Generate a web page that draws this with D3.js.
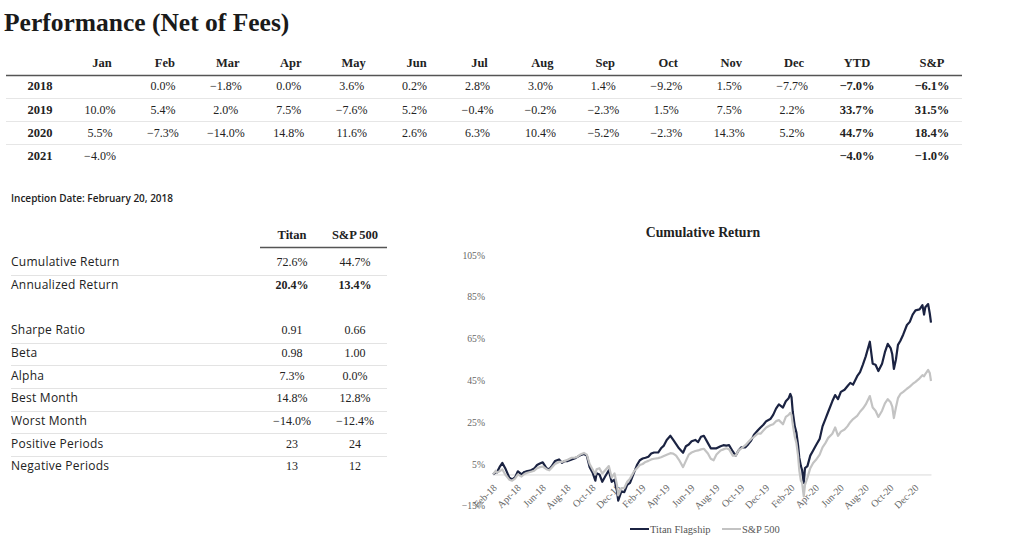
<!DOCTYPE html>
<html><head><meta charset="utf-8">
<script src="https://cdn.jsdelivr.net/npm/d3@7"></script>
<style>body{margin:0;background:#fff;}svg{display:block;}</style>
</head><body>
<svg id="c" width="1024" height="550"></svg>
<script>
// ---------- DATA ----------
const months = ["Jan","Feb","Mar","Apr","May","Jun","Jul","Aug","Sep","Oct","Nov","Dec"];
const years = ["2018","2019","2020","2021"];
const r2018 = [null, 0.0, -1.8, 0.0, 3.6, 0.2, 2.8, 3.0, 1.4, -9.2, 1.5, -7.7];
const r2019 = [10.0, 5.4, 2.0, 7.5, -7.6, 5.2, -0.4, -0.2, -2.3, 1.5, 7.5, 2.2];
const r2020 = [5.5, -7.3, -14.0, 14.8, 11.6, 2.6, 6.3, 10.4, -5.2, -2.3, 14.3, 5.2];
const r2021 = [-4.0, null, null, null, null, null, null, null, null, null, null, null];
const ytd = [-7.0, 33.7, 44.7, -4.0];
const spYtd = [-6.1, 31.5, 18.4, -1.0];

const statLabels = ["Cumulative Return","Annualized Return","Sharpe Ratio","Beta","Alpha","Best Month","Worst Month","Positive Periods","Negative Periods"];
const titanStats = ["72.6%","20.4%","0.91","0.98","7.3%","14.8%","\u221214.0%","23","13"];
const spStats = ["44.7%","13.4%","0.66","1.00","0.0%","12.8%","\u221212.4%","24","12"];

const dates = ["2018-02-20","2018-02-27","2018-03-01","2018-03-08","2018-03-15","2018-03-22","2018-04-01","2018-04-08","2018-04-15","2018-04-22",
"2018-05-01","2018-05-08","2018-05-15","2018-05-22","2018-06-01","2018-06-08","2018-06-15","2018-06-22","2018-07-01","2018-07-08",
"2018-07-15","2018-07-22","2018-08-01","2018-08-08","2018-08-15","2018-08-22","2018-09-01","2018-09-08","2018-09-15","2018-09-22",
"2018-10-01","2018-10-08","2018-10-15","2018-10-22","2018-10-29","2018-11-01","2018-11-08","2018-11-15","2018-11-22","2018-12-01",
"2018-12-08","2018-12-15","2018-12-21","2018-12-24","2019-01-01","2019-01-08","2019-01-15","2019-01-22","2019-02-01","2019-02-08",
"2019-02-15","2019-02-22","2019-03-01","2019-03-08","2019-03-15","2019-03-22","2019-04-01","2019-04-08","2019-04-15","2019-04-22",
"2019-05-01","2019-05-08","2019-05-15","2019-05-22","2019-06-01","2019-06-08","2019-06-15","2019-06-22","2019-07-01","2019-07-08",
"2019-07-15","2019-07-22","2019-08-01","2019-08-08","2019-08-15","2019-08-22","2019-09-01","2019-09-08","2019-09-15","2019-09-22",
"2019-10-01","2019-10-08","2019-10-15","2019-10-22","2019-11-01","2019-11-08","2019-11-15","2019-11-22","2019-12-01","2019-12-08",
"2019-12-15","2019-12-22","2020-01-01","2020-01-08","2020-01-15","2020-01-22","2020-02-01","2020-02-08","2020-02-15","2020-02-19",
"2020-02-22","2020-02-25","2020-03-01","2020-03-05","2020-03-09","2020-03-12","2020-03-16","2020-03-19","2020-03-23","2020-03-26",
"2020-04-01","2020-04-08","2020-04-15","2020-04-22","2020-05-01","2020-05-08","2020-05-15","2020-05-22","2020-06-01","2020-06-08",
"2020-06-15","2020-06-22","2020-07-01","2020-07-08","2020-07-15","2020-07-22","2020-08-01","2020-08-08","2020-08-15","2020-08-22",
"2020-09-01","2020-09-08","2020-09-15","2020-09-22","2020-10-01","2020-10-08","2020-10-15","2020-10-22","2020-10-26","2020-10-30",
"2020-11-04","2020-11-09","2020-11-15","2020-11-22","2020-12-01","2020-12-08","2020-12-15","2020-12-22","2021-01-01","2021-01-08",
"2021-01-12","2021-01-15","2021-01-22","2021-01-26","2021-01-29"];

const titan = [0, 1.0, 0.8, 3.5, 5.5, 3.0, -1.5, -2.4, -1.4, 1.5,
0.0, 1.2, 1.6, 1.8, 2.8, 4.5, 5.2, 5.8, 3.0, 2.5,
4.2, 6.4, 7.2, 5.6, 6.4, 6.4, 7.2, 7.6, 8.4, 9.2,
9.8, 9.0, 3.5, 1.0, -3.0, 0.5, 0.0, -3.5, -1.0, 2.0,
-3.5, -2.5, -8.0, -12.5, -8.0, -8.5, -5.0, -4.0, 1.0, 4.5,
6.8, 7.6, 8.0, 8.5, 10.0, 10.5, 10.5, 12.5, 13.8, 16.5,
18.5, 16.5, 14.5, 12.5, 10.4, 13.5, 14.3, 15.9, 16.5, 15.5,
18.0, 18.5, 15.0, 12.5, 12.5, 12.5, 13.5, 14.0, 13.8, 14.0,
11.0, 9.0, 11.5, 13.0, 13.0, 14.5, 16.2, 19.0, 21.0, 22.5,
23.8, 25.5, 26.5, 28.5, 31.5, 33.5, 32.0, 35.0, 36.5, 38.5,
37.0, 30.0, 23.0, 20.0, 14.0, 8.0, 4.0, 2.0, -4.0, 3.0,
4.0, 9.0, 11.5, 14.0, 17.0, 23.0, 26.5, 30.0, 35.0, 38.0,
36.0, 39.5, 40.5, 42.2, 43.8, 43.0, 47.0, 49.0, 52.6, 56.5,
63.5, 53.0, 52.5, 49.5, 53.0, 58.5, 62.5, 60.5, 57.5, 50.5,
55.0, 62.0, 64.0, 67.0, 71.5, 73.0, 76.5, 78.5, 79.0, 81.0,
76.5, 80.0, 81.5, 77.0, 72.6];

const sp500 = [0, 1.8, 0.8, 1.5, 2.4, 0.0, -2.5, -3.0, -2.0, 0.0,
-1.0, 0.2, 0.8, 1.2, 1.8, 3.0, 3.5, 3.8, 2.5, 2.0,
3.5, 5.0, 6.0, 6.0, 6.5, 7.0, 8.0, 8.0, 8.5, 9.5,
10.3, 9.5, 5.0, 2.5, 0.0, 2.5, 3.0, 0.5, 2.0, 4.0,
-1.5, 0.5, -5.0, -10.0, -6.5, -6.5, -3.5, -2.0, 1.5, 3.0,
4.5, 5.0, 6.0, 6.5, 7.2, 7.5, 7.8, 8.2, 8.8, 9.4,
10.2, 10.0, 9.0, 7.0, 3.5, 6.5, 9.5, 10.5, 11.2, 11.5,
12.0, 12.3, 10.0, 7.5, 6.8, 9.5, 11.5, 12.0, 12.5, 12.0,
9.0, 9.0, 11.5, 12.5, 14.0, 15.5, 17.0, 18.0, 19.5, 19.5,
21.0, 22.5, 23.5, 24.0, 25.5, 26.0, 24.0, 27.5, 28.5, 29.5,
28.5, 24.0, 18.0, 15.0, 9.0, 2.0, -3.0, -4.0, -10.5, -5.0,
-1.5, 3.0, 5.5, 7.0, 9.5, 13.0, 15.0, 17.5, 19.5, 22.5,
18.5, 20.5, 21.5, 23.0, 25.0, 26.5, 28.0, 30.0, 31.5, 33.5,
37.5, 32.0, 30.5, 27.5, 30.5, 34.0, 36.0, 34.5, 32.5, 27.0,
32.0, 36.5, 38.5, 39.5, 41.0, 42.0, 43.3, 44.3, 46.0, 47.5,
47.0, 48.0, 50.0, 48.5, 44.7];

const yTicks = [-15, 5, 25, 45, 65, 85, 105];
const xTickDates = ["2018-02-20","2018-04-20","2018-06-20","2018-08-20","2018-10-20","2018-12-20",
"2019-02-20","2019-04-20","2019-06-20","2019-08-20","2019-10-20","2019-12-20",
"2020-02-20","2020-04-20","2020-06-20","2020-08-20","2020-10-20","2020-12-20"];
const seriesNames = ["Titan Flagship","S&P 500"];

// ---------- STYLE ----------
const SERIF = "'Liberation Serif','DejaVu Serif',serif";
const SANS = "'Open Sans','Noto Sans',sans-serif";
const TXT = "#222";
const NAVY = "#1b2342";
const GREY = "#c3c3c3";

const svg = d3.select("#c");
const fmt = v => d3.format(".1f")(v) + "%";

// Title
svg.append("text").attr("x", 4).attr("y", 31)
  .attr("font-family", SERIF).attr("font-weight", "bold").attr("font-size", 25.5)
  .attr("fill", "#1a1a1a").text("Performance (Net of Fees)");

// ---------- MONTHLY TABLE ----------
const colX = d3.scalePoint().domain(months.concat(["YTD"])).range([102, 857]);
const spX = 932;
const rowY = d3.scalePoint().domain(years).range([86, 156]);
const hdrY = 63;

const hdr = svg.append("g").attr("font-family", SERIF).attr("font-weight", "bold")
  .attr("font-size", 12.5).attr("fill", TXT).attr("text-anchor", "middle");
hdr.selectAll("text.m").data(months.concat(["YTD"])).join("text")
  .attr("x", d => colX(d)).attr("y", hdrY).attr("dy", "0.35em").text(d => d);
hdr.append("text").attr("x", spX).attr("y", hdrY).attr("dy", "0.35em").text("S&P");

svg.append("line").attr("x1", 6).attr("x2", 962).attr("y1", 75.5).attr("y2", 75.5)
  .attr("stroke", "#555").attr("stroke-width", 1.6);
[98.5, 121.5, 144.5].forEach(yy => svg.append("line").attr("x1", 6).attr("x2", 962)
  .attr("y1", yy).attr("y2", yy).attr("stroke", "#e6e6e6").attr("stroke-width", 1));

const rows = [r2018, r2019, r2020, r2021];
const tbody = svg.append("g").attr("font-family", SERIF).attr("font-size", 12)
  .attr("fill", TXT).attr("text-anchor", "middle");
years.forEach((yr, i) => {
  const y = rowY(yr);
  tbody.append("text").attr("x", 40).attr("y", y).attr("dy", "0.35em")
    .attr("font-weight", "bold").attr("font-size", 12.5).text(yr);
  rows[i].forEach((v, j) => {
    if (v === null) return;
    tbody.append("text").attr("x", colX(months[j]) - 2).attr("y", y).attr("dy", "0.35em").text(fmt(v));
  });
  tbody.append("text").attr("x", colX("YTD")).attr("y", y).attr("dy", "0.35em")
    .attr("font-weight", "bold").attr("font-size", 12.5).text(fmt(ytd[i]));
  tbody.append("text").attr("x", spX).attr("y", y).attr("dy", "0.35em")
    .attr("font-weight", "bold").attr("font-size", 12.5).text(fmt(spYtd[i]));
});

// ---------- STATS TABLE ----------
svg.append("text").attr("x", 11).attr("y", 198).attr("dy", "0.35em")
  .attr("font-family", SANS).attr("font-weight", 600).attr("font-size", 10)
  .attr("fill", TXT).text("Inception Date: February 20, 2018");

const statHdr = svg.append("g").attr("font-family", SERIF).attr("font-weight", "bold")
  .attr("font-size", 12.5).attr("fill", TXT).attr("text-anchor", "middle");
statHdr.append("text").attr("x", 292).attr("y", 235).attr("dy", "0.35em").text("Titan");
statHdr.append("text").attr("x", 355).attr("y", 235).attr("dy", "0.35em").text("S&P 500");
svg.append("line").attr("x1", 260).attr("x2", 387).attr("y1", 247.5).attr("y2", 247.5)
  .attr("stroke", "#555").attr("stroke-width", 1.4);

const statY = i => 262 + i * 22.7 + (i >= 2 ? 22.6 : 0);
statLabels.forEach((lab, i) => {
  const y = statY(i);
  svg.append("text").attr("x", 11).attr("y", y).attr("dy", "0.35em")
    .attr("font-family", SANS).attr("font-size", 12).attr("letter-spacing", 0.25)
    .attr("fill", TXT).text(lab);
  const bold = i === 1 ? "bold" : "normal";
  svg.append("text").attr("x", 292).attr("y", y).attr("dy", "0.35em").attr("text-anchor", "middle")
    .attr("font-family", SERIF).attr("font-size", 12).attr("font-weight", bold).attr("fill", TXT).text(titanStats[i]);
  svg.append("text").attr("x", 355).attr("y", y).attr("dy", "0.35em").attr("text-anchor", "middle")
    .attr("font-family", SERIF).attr("font-size", 12).attr("font-weight", bold).attr("fill", TXT).text(spStats[i]);
  if (i !== 1 && i !== statLabels.length - 1) {
    const ly = Math.round(y + 12.5) + 0.5;
    svg.append("line").attr("x1", 11).attr("x2", 387).attr("y1", ly).attr("y2", ly)
      .attr("stroke", "#e3e3e3").attr("stroke-width", 1);
  }
});

// ---------- LINE CHART ----------
const parse = d3.timeParse("%Y-%m-%d");
const x = d3.scaleTime().domain([parse("2018-02-20"), parse("2021-01-29")]).range([493, 931]);
const y = d3.scaleLinear().domain([-15, 105]).range([505.8, 255]);

svg.append("text").attr("x", 703).attr("y", 232).attr("dy", "0.35em").attr("text-anchor", "middle")
  .attr("font-family", SERIF).attr("font-weight", "bold").attr("font-size", 13.8)
  .attr("fill", TXT).text("Cumulative Return");

// y axis labels
const yAx = svg.append("g").attr("transform", "translate(485,0)")
  .call(d3.axisLeft(y).tickValues(yTicks).tickSize(0).tickPadding(0).tickFormat(d => d3.format("d")(d) + "%"));
yAx.select(".domain").remove();
yAx.selectAll("text").attr("font-family", SERIF).attr("font-size", 9.7).attr("fill", "#666");

// x axis at zero
const xAx = svg.append("g").attr("transform", `translate(0,${y(0)})`)
  .call(d3.axisBottom(x).tickValues(xTickDates.map(parse)).tickSize(0).tickFormat(d3.timeFormat("%b-%y")));
xAx.select(".domain").attr("stroke", "#d9d9d9");
xAx.selectAll(".tick line").remove();
xAx.selectAll(".tick text").attr("font-family", SERIF).attr("font-size", 10).attr("fill", "#666")
  .attr("text-anchor", "end").attr("y", 0).attr("dy", 0)
  .attr("transform", "translate(4,14) rotate(-45)");

const pts = (vals) => dates.map((d, i) => ({ date: parse(d), v: vals[i] }));
const line = d3.line().x(d => x(d.date)).y(d => y(d.v));

svg.append("path").datum(pts(titan)).attr("d", line).attr("fill", "none")
  .attr("stroke", NAVY).attr("stroke-width", 2.2).attr("stroke-linejoin", "round");
svg.append("path").datum(pts(sp500)).attr("d", line).attr("fill", "none")
  .attr("stroke", GREY).attr("stroke-width", 2.2).attr("stroke-linejoin", "round");

// legend
const leg = svg.append("g").attr("font-family", SERIF).attr("font-size", 10.5).attr("fill", "#555");
const legX = [630, 722];
seriesNames.forEach((n, i) => {
  leg.append("line").attr("x1", legX[i]).attr("x2", legX[i] + 19).attr("y1", 529).attr("y2", 529)
    .attr("stroke", i === 0 ? NAVY : GREY).attr("stroke-width", 2);
  leg.append("text").attr("x", legX[i] + 20).attr("y", 529).attr("dy", "0.35em").text(n);
});
</script>
</body></html>
